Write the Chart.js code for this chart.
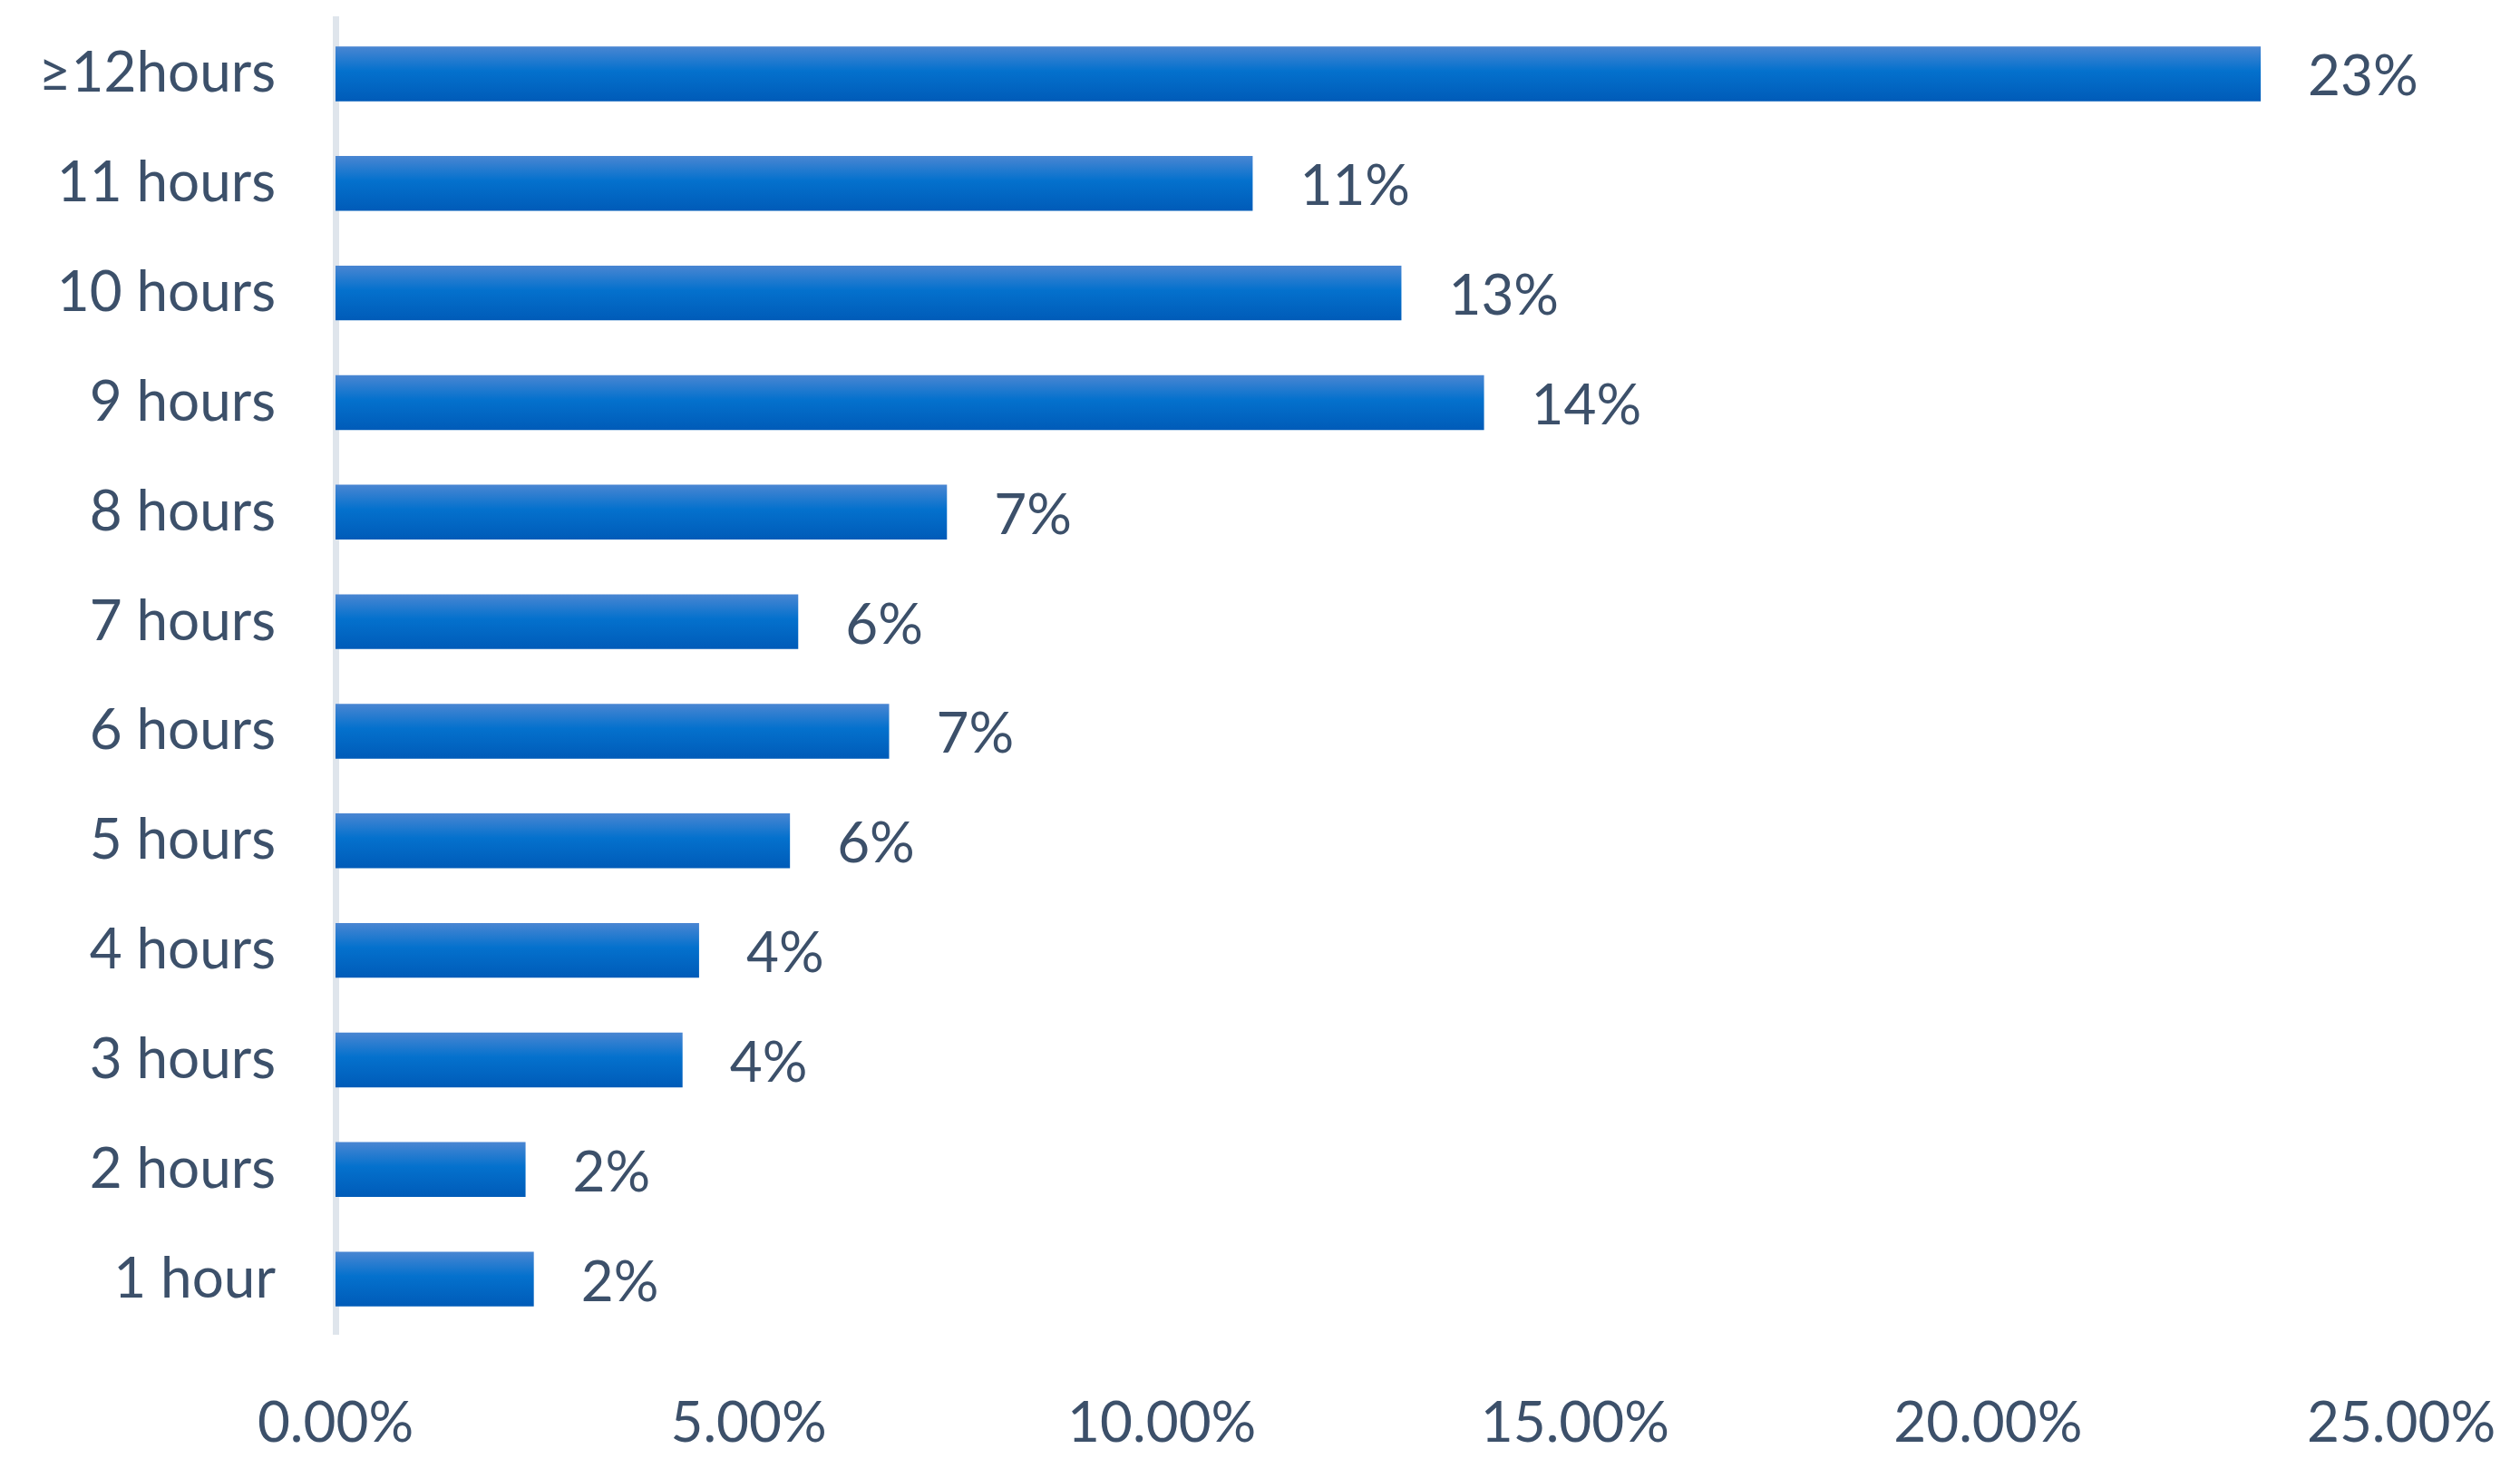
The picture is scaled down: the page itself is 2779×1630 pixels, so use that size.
<!DOCTYPE html>
<html>
<head>
<meta charset="utf-8">
<script src="https://cdn.jsdelivr.net/npm/chart.js@4.4.0/dist/chart.umd.min.js"></script>
<style>
  html, body { margin: 0; padding: 0; background: #fff; }
  #wrap { width: 2779px; height: 1630px; position: relative; }
</style>
</head>
<body>
<div id="wrap"><canvas id="hoursChart"></canvas></div>
<script>
// categories, top to bottom
const categories = ['≥12hours', '11 hours', '10 hours', '9 hours', '8 hours', '7 hours',
                    '6 hours', '5 hours', '4 hours', '3 hours', '2 hours', '1 hour'];
// share of respondents, in percent
const shares = [23.3, 11.1, 12.9, 13.9, 7.4, 5.6, 6.7, 5.5, 4.4, 4.2, 2.3, 2.4];
// the rounded labels printed next to the bars
const shareLabels = ['23%', '11%', '13%', '14%', '7%', '6%', '7%', '6%', '4%', '4%', '2%', '2%'];
const xTicks = [0, 5, 10, 15, 20, 25];

const textColor = '#3c506a';
const fontFamily = 'Lato, "Open Sans", sans-serif';

// vertical gradient for each bar, built from the y scale
function barGradient(context) {
    const chart = context.chart;
    const yScale = chart.scales.y;
    if (!yScale || !chart.chartArea) return '#0070cc';
    const center = yScale.getPixelForValue(context.dataIndex);
    const half = yScale.height / categories.length * 0.25;
    const g = chart.ctx.createLinearGradient(0, center - half, 0, center + half);
    g.addColorStop(0, '#4a86d2');
    g.addColorStop(0.45, '#0471cd');
    g.addColorStop(1, '#005bb8');
    return g;
}

// value labels at the end of each bar
const valueLabels = {
    id: 'valueLabels',
    afterDatasetsDraw(chart) {
        const ctx = chart.ctx;
        const meta = chart.getDatasetMeta(0);
        ctx.save();
        ctx.font = '62px ' + fontFamily;
        ctx.fillStyle = textColor;
        ctx.textAlign = 'left';
        ctx.textBaseline = 'middle';
        meta.data.forEach((bar, i) => {
            ctx.fillText(shareLabels[i], bar.x + 52, bar.y + 4);
        });
        ctx.restore();
    }
};

const ctx = document.getElementById('hoursChart');
new Chart(ctx, {
    type: 'bar',
    data: {
        labels: categories,
        datasets: [{
            data: shares,
            backgroundColor: barGradient,
            borderWidth: 0,
            categoryPercentage: 1.0,
            barPercentage: 0.5
        }]
    },
    options: {
        indexAxis: 'y',
        responsive: true,
        maintainAspectRatio: false,
        animation: false,
        layout: { padding: { top: 21, right: 131, left: 0, bottom: 0 } },
        plugins: {
            legend: { display: false },
            tooltip: { enabled: false }
        },
        scales: {
            x: {
                min: 0,
                max: 25,
                afterBuildTicks: (scale) => { scale.ticks = xTicks.map(v => ({ value: v })); },
                afterFit: (scale) => {
                    scale.height = 159;
                    scale.paddingLeft = 0;
                    scale.paddingRight = 0;
                },
                grid: { display: false, drawTicks: false },
                border: { display: false },
                ticks: {
                    color: textColor,
                    font: { size: 62, family: fontFamily },
                    padding: 62,
                    maxRotation: 0,
                    callback: (v) => Number(v).toFixed(2) + '%'
                }
            },
            y: {
                z: 1,
                afterFit: (scale) => {
                    scale.width = 370;
                    scale.paddingTop = 0;
                    scale.paddingBottom = 0;
                },
                grid: { display: false, drawTicks: false },
                border: { display: true, color: '#dfe5ec', width: 7 },
                ticks: {
                    color: textColor,
                    font: { size: 62, family: fontFamily },
                    padding: 66
                }
            }
        }
    },
    plugins: [valueLabels]
});
</script>
</body>
</html>
